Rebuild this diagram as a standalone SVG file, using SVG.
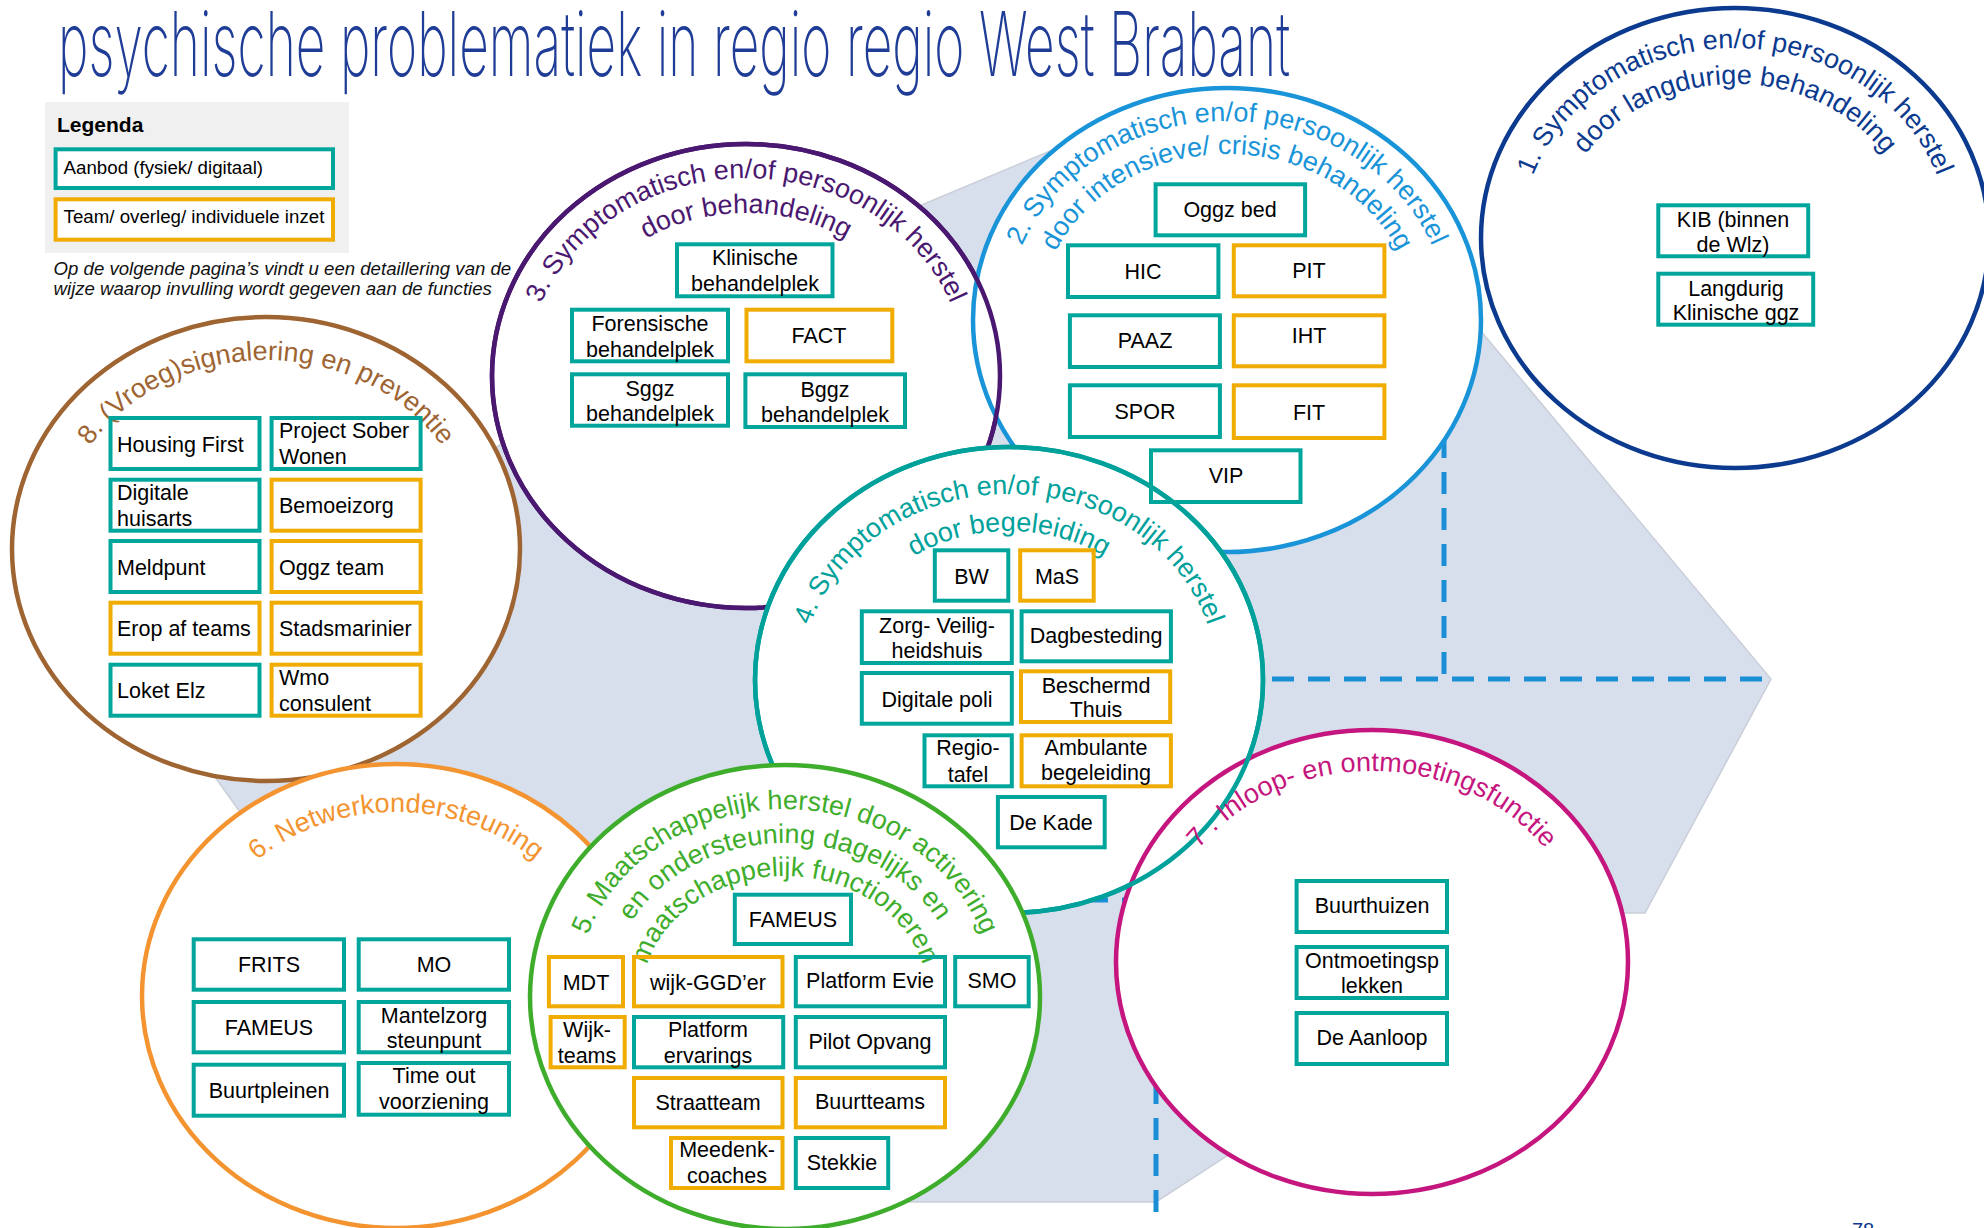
<svg xmlns="http://www.w3.org/2000/svg" width="1984" height="1228" viewBox="0 0 1984 1228">
<style>
.ring{fill:#fff;stroke-width:4.5}
.ol{fill:none;stroke-width:4.5}
.arc{font-family:"Liberation Sans",Arial,sans-serif;font-size:27px}
.bt{fill:none;stroke:#00A59C;stroke-width:4}
.bo{fill:none;stroke:#F0AC00;stroke-width:4}
.t{font-family:"Liberation Sans",Arial,sans-serif;font-size:21.5px;fill:#000}
.c{text-anchor:middle}
.dash{fill:none;stroke:#1B8FD6;stroke-width:5;stroke-dasharray:22 14}
</style>
<defs>
<path id="p1a" d="M1521,238 A214,190 0 0 1 1949,238"/>
<path id="p1b" d="M1557,238 A178,154 0 0 1 1913,238"/>
<path id="p2a" d="M1006,320 A221,199 0 0 1 1448,320"/>
<path id="p2b" d="M1039,320 A188,166 0 0 1 1415,320"/>
<path id="p3a" d="M526,376 A220,198 0 0 1 966,376"/>
<path id="p3b" d="M561,376 A185,163 0 0 1 931,376"/>
<path id="p4a" d="M801,680 A208,186 0 0 1 1217,680"/>
<path id="p4b" d="M838,680 A171,149 0 0 1 1180,680"/>
<path id="p5a" d="M576,997 A209,188 0 0 1 994,997"/>
<path id="p5b" d="M609,997 A176,154 0 0 1 961,997"/>
<path id="p5c" d="M642,997 A143,121 0 0 1 928,997"/>
<path id="p6a" d="M190,996 A206,184 0 0 1 602,996"/>
<path id="p7a" d="M1157,962 A215,191 0 0 1 1587,962"/>
<path id="p8a" d="M56,549 A210,189 0 0 1 476,549"/>
</defs>
<rect width="1984" height="1228" fill="#fff"/>

<g id="background">
<polygon points="1195,90 1480,330 1771,679 1645,913 1601,913 1156,1202 720,1202 410,1050 130,658 500,445 905,212" fill="#D8DFEC" stroke="#C9CED8" stroke-width="1.5"/>
</g>

<g id="title">
<text x="58" y="76" font-family="Inter, Roboto, Liberation Sans, Arial, sans-serif" font-weight="200" font-size="90" fill="#1F3D96" textLength="1232" lengthAdjust="spacingAndGlyphs">psychische problematiek in regio regio West Brabant</text>
</g>

<g id="legend">
<rect x="45" y="102" width="304" height="151" fill="#F0F0F0"/>
<text x="57" y="132" font-family="Liberation Sans, Arial, sans-serif" font-size="21" font-weight="bold" fill="#000">Legenda</text>
<rect x="55.6" y="149.3" width="277.4" height="38.7" fill="#fff" stroke="#00A59C" stroke-width="4"/>
<text x="63.6" y="174" font-family="Liberation Sans, Arial, sans-serif" font-size="18.7" fill="#000">Aanbod (fysiek/ digitaal)</text>
<rect x="55.6" y="199.3" width="277.4" height="40.4" fill="#fff" stroke="#F0AC00" stroke-width="4"/>
<text x="63.6" y="223" font-family="Liberation Sans, Arial, sans-serif" font-size="18.7" fill="#000">Team/ overleg/ individuele inzet</text>
<text font-family="Liberation Sans, Arial, sans-serif" font-size="18.6" font-style="italic" fill="#111"><tspan x="53.6" y="275">Op de volgende pagina’s vindt u een detaillering van de</tspan><tspan x="53.6" y="295">wijze waarop invulling wordt gegeven aan de functies</tspan></text>
</g>

<g id="connectors">
<path class="dash" d="M1444,400 V679 M1200,679 H1771"/>
<path class="dash" d="M1050,900 H1156 V1212"/>
</g>

<g id="circle-1">
<ellipse class="ring" cx="1735" cy="238" rx="254" ry="230" stroke="#0B3A8F"/>
<text class="arc" fill="#0B3A8F" text-anchor="middle"><textPath href="#p1a" startOffset="50%">1. Symptomatisch en/of persoonlijk herstel</textPath></text>
<text class="arc" fill="#0B3A8F" text-anchor="middle"><textPath href="#p1b" startOffset="50%">door langdurige behandeling</textPath></text>
</g>

<g id="circle-3">
<ellipse class="ring" cx="746" cy="376" rx="254" ry="232" stroke="#4A1870"/>
<text class="arc" fill="#4A1870" text-anchor="middle" font-size="25.5"><textPath href="#p3a" startOffset="50%">3. Symptomatisch en/of persoonlijk herstel</textPath></text>
<text class="arc" fill="#4A1870" text-anchor="middle" font-size="25.5"><textPath href="#p3b" startOffset="50%">door behandeling</textPath></text>
</g>

<g id="circle-2">
<ellipse class="ring" cx="1227" cy="320" rx="254" ry="232" stroke="#1A94D8"/>
<text class="arc" fill="#1A94D8" text-anchor="middle" font-size="25.5"><textPath href="#p2a" startOffset="50%">2. Symptomatisch en/of persoonlijk herstel</textPath></text>
<text class="arc" fill="#1A94D8" text-anchor="middle" font-size="25.5"><textPath href="#p2b" startOffset="50%">door intensieve/ crisis behandeling</textPath></text>
</g>
<ellipse class="ol" cx="746" cy="376" rx="254" ry="232" stroke="#4A1870"/>

<g id="circle-8">
<ellipse class="ring" cx="266" cy="549" rx="254" ry="232" stroke="#9E6432"/>
<text class="arc" fill="#9E6432" text-anchor="middle" font-size="28"><textPath href="#p8a" startOffset="50%">8. (Vroeg)signalering en preventie</textPath></text>
</g>

<g id="circle-6">
<ellipse class="ring" cx="396" cy="996" rx="254" ry="232" stroke="#F39430"/>
<text class="arc" fill="#F39430" text-anchor="middle" font-size="28"><textPath href="#p6a" startOffset="50%">6. Netwerkondersteuning</textPath></text>
</g>

<g id="circle-4">
<ellipse class="ring" cx="1009" cy="680" rx="254" ry="233" stroke="#00A19B"/>
<text class="arc" fill="#00A19B" text-anchor="middle"><textPath href="#p4a" startOffset="50%">4. Symptomatisch en/of persoonlijk herstel</textPath></text>
<text class="arc" fill="#00A19B" text-anchor="middle"><textPath href="#p4b" startOffset="50%">door begeleiding</textPath></text>
</g>

<g id="circle-7">
<ellipse class="ring" cx="1372" cy="962" rx="256" ry="232" stroke="#C5157E"/>
<ellipse class="ol" cx="1009" cy="680" rx="254" ry="233" stroke="#00A19B"/>
<text class="arc" fill="#C5157E" text-anchor="middle"><textPath href="#p7a" startOffset="50%">7 . Inloop- en ontmoetingsfunctie</textPath></text>
</g>

<g id="circle-5">
<ellipse class="ring" cx="785" cy="997" rx="255" ry="232" stroke="#3EAD2C"/>
<text class="arc" fill="#3EAD2C" text-anchor="middle" font-size="26.5"><textPath href="#p5a" startOffset="50%">5. Maatschappelijk herstel door activering</textPath></text>
<text class="arc" fill="#3EAD2C" text-anchor="middle" font-size="26.5"><textPath href="#p5b" startOffset="50%">en ondersteuning dagelijks en</textPath></text>
<text class="arc" fill="#3EAD2C" text-anchor="middle" font-size="26.5"><textPath href="#p5c" startOffset="50%">maatschappelijk functioneren</textPath></text>
</g>

<g id="nodes-8">
<g id="n-housing-first"><rect class="bt" x="110.5" y="418" width="149" height="51"/><text class="t" x="117" y="452">Housing First</text></g>
<g id="n-project-sober"><rect class="bt" x="271.6" y="418" width="149" height="51"/><text class="t"><tspan x="279" y="438">Project Sober</tspan><tspan x="279" y="464">Wonen</tspan></text></g>
<g id="n-digitale-huisarts"><rect class="bt" x="110.5" y="479.7" width="149" height="51"/><text class="t"><tspan x="117" y="500">Digitale</tspan><tspan x="117" y="525.7">huisarts</tspan></text></g>
<g id="n-bemoeizorg"><rect class="bo" x="271.6" y="479.7" width="149" height="51"/><text class="t" x="279" y="513">Bemoeizorg</text></g>
<g id="n-meldpunt"><rect class="bt" x="110.5" y="541" width="149" height="51"/><text class="t" x="117" y="575">Meldpunt</text></g>
<g id="n-oggz-team"><rect class="bo" x="271.6" y="541" width="149" height="51"/><text class="t" x="279" y="575">Oggz team</text></g>
<g id="n-erop-af"><rect class="bo" x="110.5" y="602.7" width="149" height="51"/><text class="t" x="117" y="636">Erop af teams</text></g>
<g id="n-stadsmarinier"><rect class="bo" x="271.6" y="602.7" width="149" height="51"/><text class="t" x="279" y="636">Stadsmarinier</text></g>
<g id="n-loket-elz"><rect class="bt" x="110.5" y="664.7" width="149" height="51"/><text class="t" x="117" y="698">Loket Elz</text></g>
<g id="n-wmo"><rect class="bo" x="271.6" y="664.7" width="149" height="51"/><text class="t"><tspan x="279" y="685">Wmo</tspan><tspan x="279" y="711">consulent</tspan></text></g>
</g>

<g id="nodes-3">
<g id="n-klinische"><rect class="bt" x="677" y="244.3" width="155.5" height="52"/><text class="t c"><tspan x="755" y="265">Klinische</tspan><tspan x="755" y="291">behandelplek</tspan></text></g>
<g id="n-forensische"><rect class="bt" x="572" y="309.7" width="156" height="51.6"/><text class="t c"><tspan x="650" y="331">Forensische</tspan><tspan x="650" y="356.7">behandelplek</tspan></text></g>
<g id="n-fact"><rect class="bo" x="746.5" y="309.7" width="145.8" height="51.6"/><text class="t c" x="819" y="343">FACT</text></g>
<g id="n-sggz"><rect class="bt" x="572" y="374.3" width="156" height="51.4"/><text class="t c"><tspan x="650" y="395.7">Sggz</tspan><tspan x="650" y="421">behandelplek</tspan></text></g>
<g id="n-bggz"><rect class="bt" x="745.4" y="374.3" width="159.6" height="52.7"/><text class="t c"><tspan x="825" y="396.7">Bggz</tspan><tspan x="825" y="422.3">behandelplek</tspan></text></g>
</g>

<g id="nodes-2">
<g id="n-oggz-bed"><rect class="bt" x="1155.6" y="184.3" width="149.5" height="51"/><text class="t c" x="1230" y="217">Oggz bed</text></g>
<g id="n-hic"><rect class="bt" x="1068" y="245.3" width="150.4" height="51.7"/><text class="t c" x="1143" y="279">HIC</text></g>
<g id="n-pit"><rect class="bo" x="1233.8" y="245.3" width="150.6" height="51"/><text class="t c" x="1309" y="278">PIT</text></g>
<g id="n-paaz"><rect class="bt" x="1069.9" y="315.3" width="150" height="51.7"/><text class="t c" x="1145" y="348">PAAZ</text></g>
<g id="n-iht"><rect class="bo" x="1233.8" y="315.3" width="150.6" height="51"/><text class="t c" x="1309" y="343">IHT</text></g>
<g id="n-spor"><rect class="bt" x="1069.9" y="385.3" width="150" height="51.7"/><text class="t c" x="1145" y="419">SPOR</text></g>
<g id="n-fit"><rect class="bo" x="1233.8" y="385.3" width="150.6" height="52.7"/><text class="t c" x="1309" y="420">FIT</text></g>
<g id="n-vip"><rect class="bt" x="1151" y="450.3" width="149.5" height="51.7"/><text class="t c" x="1226" y="483">VIP</text></g>
</g>

<g id="nodes-1">
<g id="n-kib"><rect class="bt" x="1658.3" y="205.3" width="149.9" height="51"/><text class="t c"><tspan x="1733" y="226.7">KIB (binnen</tspan><tspan x="1733" y="251.7">de Wlz)</tspan></text></g>
<g id="n-langdurig"><rect class="bt" x="1658.3" y="273.7" width="154.9" height="51"/><text class="t c"><tspan x="1736" y="295.7">Langdurig</tspan><tspan x="1736" y="320">Klinische ggz</tspan></text></g>
</g>

<g id="nodes-4">
<g id="n-bw"><rect class="bt" x="934.8" y="550.3" width="73.5" height="50.4"/><text class="t c" x="971.5" y="584">BW</text></g>
<g id="n-mas"><rect class="bo" x="1020.2" y="550.3" width="73.5" height="50.4"/><text class="t c" x="1057" y="584">MaS</text></g>
<g id="n-zorg-veiligheidshuis"><rect class="bt" x="861.8" y="611.3" width="150" height="51.7"/><text class="t c"><tspan x="937" y="633.3">Zorg- Veilig-</tspan><tspan x="937" y="658.3">heidshuis</tspan></text></g>
<g id="n-dagbesteding"><rect class="bt" x="1021.6" y="611.3" width="149.3" height="50"/><text class="t c" x="1096" y="643">Dagbesteding</text></g>
<g id="n-digitale-poli"><rect class="bt" x="861.8" y="673" width="150" height="50.7"/><text class="t c" x="937" y="706.7">Digitale poli</text></g>
<g id="n-beschermd-thuis"><rect class="bo" x="1021" y="671.3" width="149.2" height="50.7"/><text class="t c"><tspan x="1096" y="693.3">Beschermd</tspan><tspan x="1096" y="716.7">Thuis</tspan></text></g>
<g id="n-regiotafel"><rect class="bt" x="924.5" y="735.3" width="87.3" height="51"/><text class="t c"><tspan x="968" y="755">Regio-</tspan><tspan x="968" y="781.7">tafel</tspan></text></g>
<g id="n-ambulante"><rect class="bo" x="1021.6" y="735.3" width="149.3" height="51"/><text class="t c"><tspan x="1096" y="755">Ambulante</tspan><tspan x="1096" y="780">begeleiding</tspan></text></g>
<g id="n-de-kade"><rect class="bt" x="997.9" y="797" width="106.8" height="50.3"/><text class="t c" x="1051" y="830">De Kade</text></g>
</g>

<g id="nodes-5">
<g id="n-fameus-5"><rect class="bt" x="734.8" y="894.7" width="116.2" height="49.3"/><text class="t c" x="793" y="926.7">FAMEUS</text></g>
<g id="n-mdt"><rect class="bo" x="548.9" y="957" width="74.1" height="49.3"/><text class="t c" x="586" y="990">MDT</text></g>
<g id="n-wijk-ggd"><rect class="bo" x="634" y="957" width="148.5" height="49.3"/><text class="t c" x="708" y="990">wijk-GGD’er</text></g>
<g id="n-platform-evie"><rect class="bt" x="795.8" y="957" width="149.2" height="49.3"/><text class="t c" x="870" y="988">Platform Evie</text></g>
<g id="n-smo"><rect class="bt" x="955.2" y="957" width="73.5" height="49.3"/><text class="t c" x="992" y="988">SMO</text></g>
<g id="n-wijkteams"><rect class="bo" x="550.6" y="1017" width="74.1" height="50.3"/><text class="t c"><tspan x="587" y="1036.7">Wijk-</tspan><tspan x="587" y="1062.7">teams</tspan></text></g>
<g id="n-platform-ervarings"><rect class="bt" x="634" y="1017" width="149.2" height="50.3"/><text class="t c"><tspan x="708" y="1036.7">Platform</tspan><tspan x="708" y="1062.7">ervarings</tspan></text></g>
<g id="n-pilot-opvang"><rect class="bt" x="795.8" y="1017" width="149.2" height="50.3"/><text class="t c" x="870" y="1049">Pilot Opvang</text></g>
<g id="n-straatteam"><rect class="bo" x="634" y="1078" width="148.5" height="49.3"/><text class="t c" x="708" y="1110">Straatteam</text></g>
<g id="n-buurtteams"><rect class="bo" x="795.8" y="1078" width="149.2" height="49.3"/><text class="t c" x="870" y="1109">Buurtteams</text></g>
<g id="n-meedenk"><rect class="bo" x="671" y="1138" width="111.5" height="50"/><text class="t c"><tspan x="727" y="1157.3">Meedenk-</tspan><tspan x="727" y="1183.3">coaches</tspan></text></g>
<g id="n-stekkie"><rect class="bt" x="795.8" y="1138" width="92.4" height="50"/><text class="t c" x="842" y="1170">Stekkie</text></g>
</g>

<g id="nodes-6">
<g id="n-frits"><rect class="bt" x="193.7" y="939.3" width="150.3" height="50.4"/><text class="t c" x="269" y="971.7">FRITS</text></g>
<g id="n-mo"><rect class="bt" x="358.7" y="939.3" width="150.3" height="50.4"/><text class="t c" x="434" y="971.7">MO</text></g>
<g id="n-fameus-6"><rect class="bt" x="193.7" y="1002" width="150.3" height="50.3"/><text class="t c" x="269" y="1035">FAMEUS</text></g>
<g id="n-mantelzorg"><rect class="bt" x="358.7" y="1002" width="150.3" height="50.3"/><text class="t c"><tspan x="434" y="1023.3">Mantelzorg</tspan><tspan x="434" y="1047.7">steunpunt</tspan></text></g>
<g id="n-buurtpleinen"><rect class="bt" x="193.7" y="1064.7" width="150.3" height="51"/><text class="t c" x="269" y="1098.3">Buurtpleinen</text></g>
<g id="n-time-out"><rect class="bt" x="358.7" y="1063" width="150.3" height="51.7"/><text class="t c"><tspan x="434" y="1083.3">Time out</tspan><tspan x="434" y="1109.3">voorziening</tspan></text></g>
</g>

<g id="nodes-7">
<g id="n-buurthuizen"><rect class="bt" x="1296.6" y="881" width="150.4" height="51"/><text class="t c" x="1372" y="913.3">Buurthuizen</text></g>
<g id="n-ontmoetingsplekken"><rect class="bt" x="1296.6" y="947" width="150.4" height="51"/><text class="t c"><tspan x="1372" y="968.3">Ontmoetingsp</tspan><tspan x="1372" y="993.3">lekken</tspan></text></g>
<g id="n-de-aanloop"><rect class="bt" x="1296.6" y="1013" width="150.4" height="51"/><text class="t c" x="1372" y="1045">De Aanloop</text></g>
</g>

<text x="1852" y="1237" font-family="Liberation Sans, Arial, sans-serif" font-size="20" fill="#0B3A8F">78</text>
</svg>
